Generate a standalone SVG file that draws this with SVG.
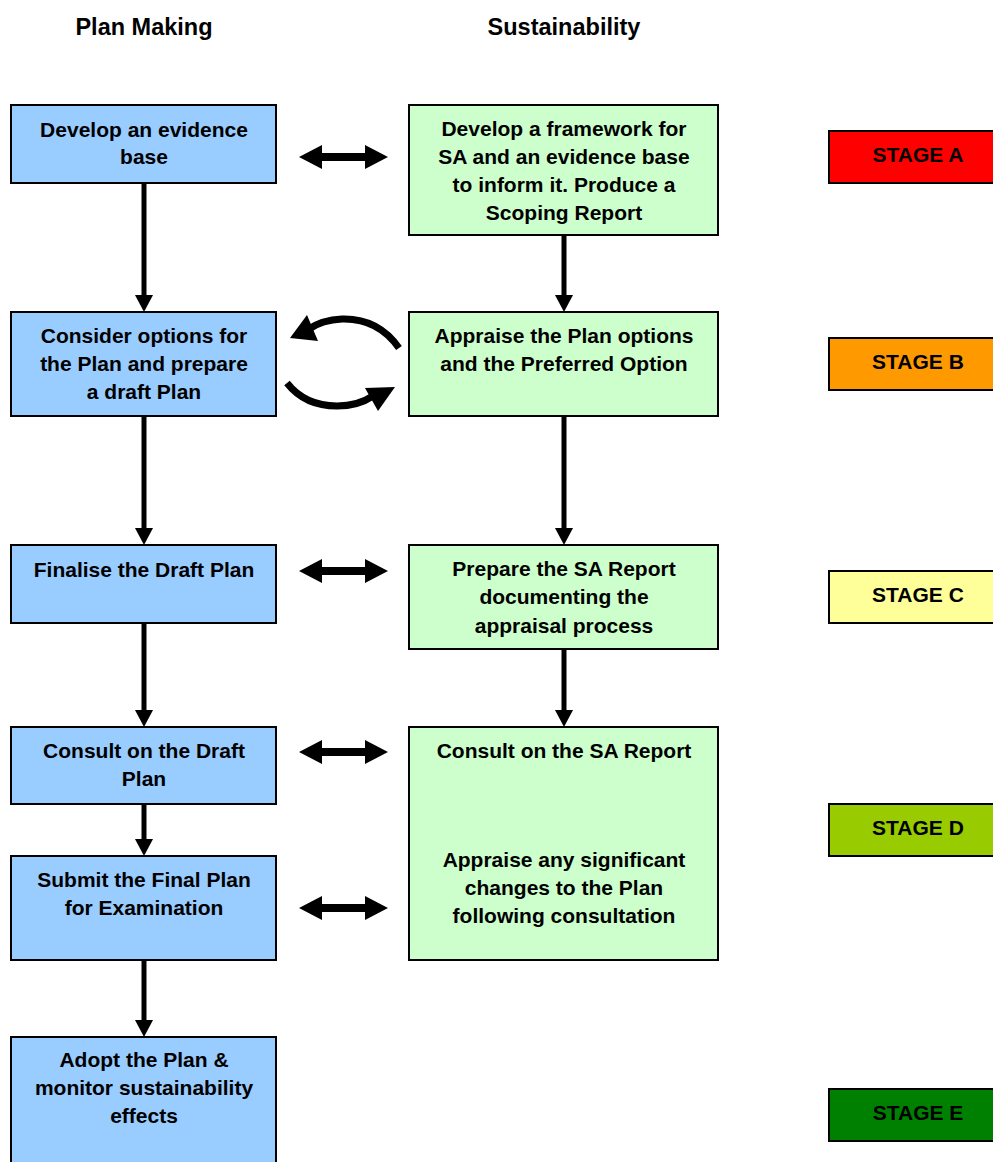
<svg xmlns="http://www.w3.org/2000/svg" width="993" height="1162" viewBox="0 0 993 1162">
<style>
text{font-family:"Liberation Sans",Arial,sans-serif;font-weight:bold;fill:#000;text-anchor:middle}
.t{font-size:21px}
.h{font-size:23.5px}
.box{stroke:#000;stroke-width:2}
.blue{fill:#99CCFF}
.green{fill:#CCFFCC}
.v{stroke:#000;stroke-width:5;fill:none}
.arc{stroke:#000;stroke-width:7;fill:none}
.head{fill:#000}
</style>
<rect width="993" height="1162" fill="#fff"/>
<g id="headers">
<text class="h" x="144" y="35">Plan Making</text>
<text class="h" x="564" y="35">Sustainability</text>
</g>
<g id="connectors">
<line class="v" x1="144" y1="183" x2="144" y2="296"/><polygon class="head" points="135,295 153,295 144,312"/>
<line class="v" x1="144" y1="416" x2="144" y2="529"/><polygon class="head" points="135,528 153,528 144,545"/>
<line class="v" x1="144" y1="623" x2="144" y2="711"/><polygon class="head" points="135,710 153,710 144,727"/>
<line class="v" x1="144" y1="804" x2="144" y2="840"/><polygon class="head" points="135,839 153,839 144,856"/>
<line class="v" x1="144" y1="960" x2="144" y2="1021"/><polygon class="head" points="135,1020 153,1020 144,1037"/>
<line class="v" x1="564" y1="235" x2="564" y2="296"/><polygon class="head" points="555,295 573,295 564,312"/>
<line class="v" x1="564" y1="416" x2="564" y2="529"/><polygon class="head" points="555,528 573,528 564,545"/>
<line class="v" x1="564" y1="649" x2="564" y2="711"/><polygon class="head" points="555,710 573,710 564,727"/>
<polygon class="head" points="299,157 322,145 322,153 365,153 365,145 388,157 365,169 365,161 322,161 322,169"/>
<polygon class="head" points="299,571 322,559 322,567 365,567 365,559 388,571 365,583 365,575 322,575 322,583"/>
<polygon class="head" points="299,752 322,740 322,748 365,748 365,740 388,752 365,764 365,756 322,756 322,764"/>
<polygon class="head" points="299,908 322,896 322,904 365,904 365,896 388,908 365,920 365,912 322,912 322,920"/>
<path class="arc" d="M 399 348 Q 378 318 342 319 Q 322 320 309 329"/>
<polygon class="head" points="290,338 307,315 318,341"/>
<path class="arc" d="M 287 383 Q 305 406 337 406 Q 358 406 373 396"/>
<polygon class="head" points="365,388 395,387 378,411"/>
</g>
<g id="n1"><rect class="box blue" x="11" y="105" width="265" height="78"/>
<text class="t" x="144" y="137">Develop an evidence</text><text class="t" x="144" y="164">base</text></g>
<g id="n2"><rect class="box blue" x="11" y="312" width="265" height="104"/>
<text class="t" x="144" y="343">Consider options for</text><text class="t" x="144" y="371">the Plan and prepare</text><text class="t" x="144" y="399">a draft Plan</text></g>
<g id="n3"><rect class="box blue" x="11" y="545" width="265" height="78"/>
<text class="t" x="144" y="577">Finalise the Draft Plan</text></g>
<g id="n4"><rect class="box blue" x="11" y="727" width="265" height="77"/>
<text class="t" x="144" y="758">Consult on the Draft</text><text class="t" x="144" y="786">Plan</text></g>
<g id="n5"><rect class="box blue" x="11" y="856" width="265" height="104"/>
<text class="t" x="144" y="887">Submit the Final Plan</text><text class="t" x="144" y="915">for Examination</text></g>
<g id="n6"><rect class="box blue" x="11" y="1037" width="265" height="140"/>
<text class="t" x="144" y="1067">Adopt the Plan &amp;</text><text class="t" x="144" y="1095">monitor sustainability</text><text class="t" x="144" y="1123">effects</text></g>
<g id="s1"><rect class="box green" x="409" y="105" width="309" height="130"/>
<text class="t" x="564" y="136">Develop a framework for</text><text class="t" x="564" y="164">SA and an evidence base</text><text class="t" x="564" y="192">to inform it. Produce a</text><text class="t" x="564" y="220">Scoping Report</text></g>
<g id="s2"><rect class="box green" x="409" y="312" width="309" height="104"/>
<text class="t" x="564" y="343">Appraise the Plan options</text><text class="t" x="564" y="371">and the Preferred Option</text></g>
<g id="s3"><rect class="box green" x="409" y="545" width="309" height="104"/>
<text class="t" x="564" y="576">Prepare the SA Report</text><text class="t" x="564" y="604">documenting the</text><text class="t" x="564" y="633">appraisal process</text></g>
<g id="s4"><rect class="box green" x="409" y="727" width="309" height="233"/>
<text class="t" x="564" y="758">Consult on the SA Report</text><text class="t" x="564" y="867">Appraise any significant</text><text class="t" x="564" y="895">changes to the Plan</text><text class="t" x="564" y="923">following consultation</text></g>
<g id="stageA"><rect class="box" fill="#FF0000" x="829" y="131" width="190" height="52"/><text class="t" x="918" y="162">STAGE A</text></g>
<g id="stageB"><rect class="box" fill="#FF9900" x="829" y="338" width="190" height="52"/><text class="t" x="918" y="369">STAGE B</text></g>
<g id="stageC"><rect class="box" fill="#FFFF99" x="829" y="571" width="190" height="52"/><text class="t" x="918" y="602">STAGE C</text></g>
<g id="stageD"><rect class="box" fill="#99CC00" x="829" y="804" width="190" height="52"/><text class="t" x="918" y="835">STAGE D</text></g>
<g id="stageE"><rect class="box" fill="#008000" x="829" y="1089" width="190" height="52"/><text class="t" x="918" y="1120">STAGE E</text></g>
</svg>
